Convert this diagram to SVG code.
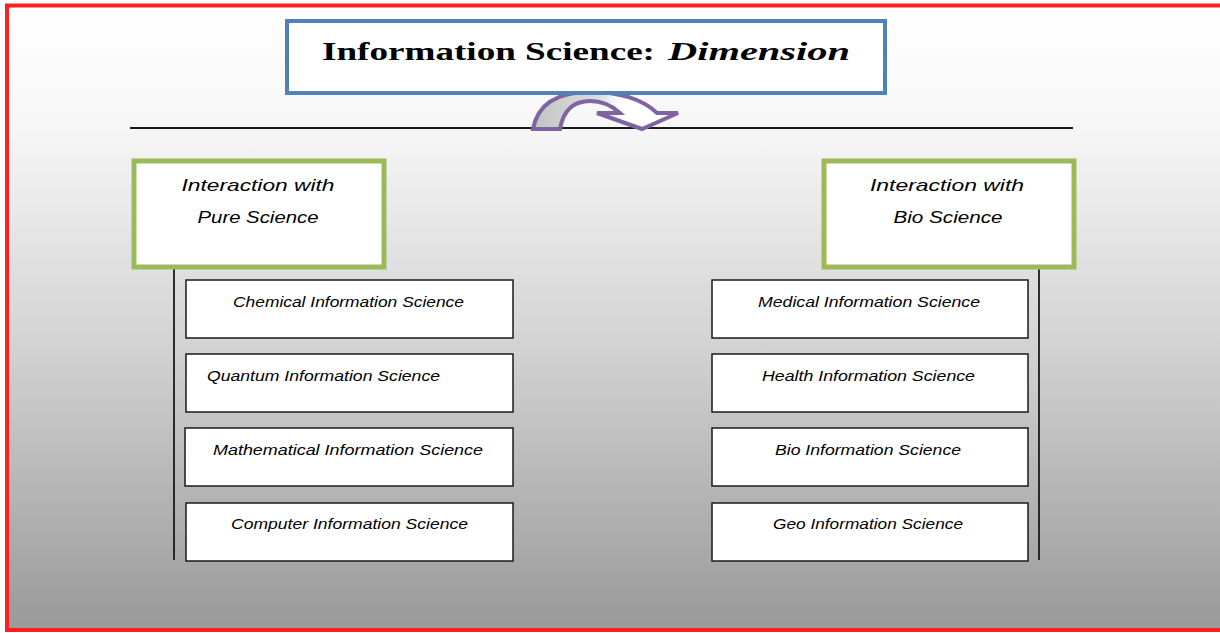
<svg xmlns="http://www.w3.org/2000/svg" width="1220" height="633" viewBox="0 0 1220 633">
<defs>
<linearGradient id="bg" x1="0" y1="0" x2="0" y2="1">
<stop offset="0" stop-color="#ffffff"/>
<stop offset="0.2" stop-color="#f6f6f6"/>
<stop offset="0.55" stop-color="#d2d2d2"/>
<stop offset="1" stop-color="#999999"/>
</linearGradient>
<linearGradient id="arc" x1="0" y1="0" x2="1" y2="0">
<stop offset="0" stop-color="#c4c4c4"/>
<stop offset="0.45" stop-color="#dcdcdc"/>
<stop offset="0.6" stop-color="#ffffff"/>
<stop offset="1" stop-color="#ffffff"/>
</linearGradient>
<style>
.frame{fill:url(#bg);stroke:#ff1f1f;stroke-width:4}
.title{fill:#ffffff;stroke:#4f81bd;stroke-width:4}
.green{fill:#ffffff;stroke:#9bbb59;stroke-width:5}
.item{fill:#ffffff;stroke:#1a1a1a;stroke-width:1.5}
.line{stroke:#1a1a1a;stroke-width:1.8;fill:none}
.t{font-family:"Liberation Serif",serif;font-weight:bold;font-size:26px;fill:#000}
.h{font-family:"Liberation Sans",Arial,sans-serif;font-style:italic;font-size:17px;fill:#000}
.s{font-family:"Liberation Sans",Arial,sans-serif;font-style:italic;font-size:15px;fill:#000}
</style>
</defs>
<rect class="frame" x="7" y="5.5" width="1230" height="624.5"/>
<g id="connectors">
<line class="line" x1="130" y1="128" x2="1073" y2="128"/>
<line class="line" x1="174" y1="268" x2="174" y2="560"/>
<line class="line" x1="1039" y1="268" x2="1039" y2="560"/>
<path d="M533,129 Q540,92 590,92 Q635,92 657,113 L678,113 L642,129 L597,113 L620,113 Q607,101 590,101 Q565,101 560,129 Z" fill="url(#arc)" stroke="#8064a2" stroke-width="4" stroke-linejoin="miter"/>
</g>
<g id="title">
<rect class="title" x="287" y="21" width="598" height="72"/>
<text class="t" x="322" y="60" textLength="333" lengthAdjust="spacingAndGlyphs">Information Science:</text>
<text class="t" x="668" y="60" font-style="italic" textLength="182" lengthAdjust="spacingAndGlyphs">Dimension</text>
</g>
<g id="pure">
<rect class="green" x="134" y="161" width="250" height="106"/>
<text class="h" x="258" y="191" text-anchor="middle" textLength="153" lengthAdjust="spacingAndGlyphs">Interaction with</text>
<text class="h" x="258" y="223" text-anchor="middle" textLength="121" lengthAdjust="spacingAndGlyphs">Pure Science</text>
</g>
<g id="bio">
<rect class="green" x="824" y="161" width="250" height="106"/>
<text class="h" x="947" y="191" text-anchor="middle" textLength="154" lengthAdjust="spacingAndGlyphs">Interaction with</text>
<text class="h" x="948" y="223" text-anchor="middle" textLength="109" lengthAdjust="spacingAndGlyphs">Bio Science</text>
</g>
<g id="chemical">
<rect class="item" x="186" y="280" width="327" height="58"/>
<text class="s" x="233" y="307" textLength="231" lengthAdjust="spacingAndGlyphs">Chemical Information Science</text>
</g>
<g id="quantum">
<rect class="item" x="186" y="354" width="327" height="58"/>
<text class="s" x="207" y="381" textLength="233" lengthAdjust="spacingAndGlyphs">Quantum Information Science</text>
</g>
<g id="mathematical">
<rect class="item" x="185" y="428" width="328" height="58"/>
<text class="s" x="213" y="455" textLength="270" lengthAdjust="spacingAndGlyphs">Mathematical Information Science</text>
</g>
<g id="computer">
<rect class="item" x="186" y="503" width="327" height="58"/>
<text class="s" x="231" y="529" textLength="237" lengthAdjust="spacingAndGlyphs">Computer Information Science</text>
</g>
<g id="medical">
<rect class="item" x="712" y="280" width="316" height="58"/>
<text class="s" x="758" y="307" textLength="222" lengthAdjust="spacingAndGlyphs">Medical Information Science</text>
</g>
<g id="health">
<rect class="item" x="712" y="354" width="316" height="58"/>
<text class="s" x="762" y="381" textLength="213" lengthAdjust="spacingAndGlyphs">Health Information Science</text>
</g>
<g id="bioinfo">
<rect class="item" x="712" y="428" width="316" height="58"/>
<text class="s" x="775" y="455" textLength="186" lengthAdjust="spacingAndGlyphs">Bio Information Science</text>
</g>
<g id="geo">
<rect class="item" x="712" y="503" width="316" height="58"/>
<text class="s" x="773" y="529" textLength="190" lengthAdjust="spacingAndGlyphs">Geo Information Science</text>
</g>
</svg>
